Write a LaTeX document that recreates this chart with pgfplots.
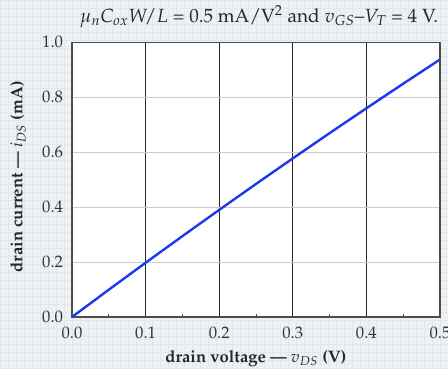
\documentclass[border=0pt]{standalone}
\usepackage[T1]{fontenc}
\usepackage{mathpazo}
\usepackage{pgfplots}
\pgfplotsset{compat=1.18}
\definecolor{paper}{HTML}{EDF1F4}
\definecolor{paperline}{HTML}{E1E7ED}
\definecolor{curve}{HTML}{1C3AEC}
\begin{document}
\begin{tikzpicture}
\useasboundingbox (0,0) rectangle (336pt,276pt);
\fill[paper] (0,0) rectangle (336pt,276pt);
\draw[paperline, line width=0.4pt, step=6pt] (0,0) grid (336pt,276pt);
\begin{axis}[
  at={(54pt,38.25pt)}, anchor=south west,
  scale only axis, width=276pt, height=206pt,
  xmin=0, xmax=0.5, ymin=0, ymax=1,
  xtick={0,0.1,0.2,0.3,0.4,0.5},
  ytick={0,0.2,0.4,0.6,0.8,1.0},
  minor xtick={0.05,0.15,0.25,0.35,0.45},
  xticklabels={0.0,0.1,0.2,0.3,0.4,0.5},
  yticklabels={0.0,0.2,0.4,0.6,0.8,1.0},
  tick pos=left, tick align=inside,
  major tick length=0pt, minor tick length=2.5pt,
  minor tick style={black!70, line width=0.6pt},
  axis background/.style={fill=white},
  axis line style={draw=black!70, line width=0.8pt},
  xmajorgrids, ymajorgrids,
  major x grid style={black!85, line width=0.7pt},
  major y grid style={black!20, line width=0.8pt},
  tick label style={font=\fontsize{12.5}{14}\selectfont, text=black!80},
  xticklabel style={yshift=-4pt},
  yticklabel style={xshift=-3.2pt},
  title={$\mu_n C_{ox} W\!/L$ = 0.5 mA/V\textsuperscript{2} and $v_{GS}$--$V_T$ = 4 V.},
  title style={at={(0.508,1.0437)}, anchor=base, font=\fontsize{14.3}{16}\selectfont, text=black!85},
  xlabel={\textbf{drain voltage --- }$v_{DS}$\textbf{ (V)}},
  xlabel style={at={(0.5,-0.166)}, anchor=base, font=\fontsize{12.5}{14}\selectfont, text=black!85},
  ylabel={\textbf{drain current --- }$i_{DS}$\textbf{ (mA)}},
  ylabel style={at={(-0.1467,0.51)}, anchor=center, font=\fontsize{12.5}{14}\selectfont, text=black!85},
]
\addplot[curve, line width=1.8pt] coordinates {
  (0,0) (0.05,0.099375) (0.1,0.1975) (0.15,0.294375) (0.2,0.39)
  (0.25,0.484375) (0.3,0.5775) (0.35,0.669375) (0.4,0.76)
  (0.45,0.849375) (0.5,0.9375)
};
\end{axis}
\end{tikzpicture}
\end{document}
